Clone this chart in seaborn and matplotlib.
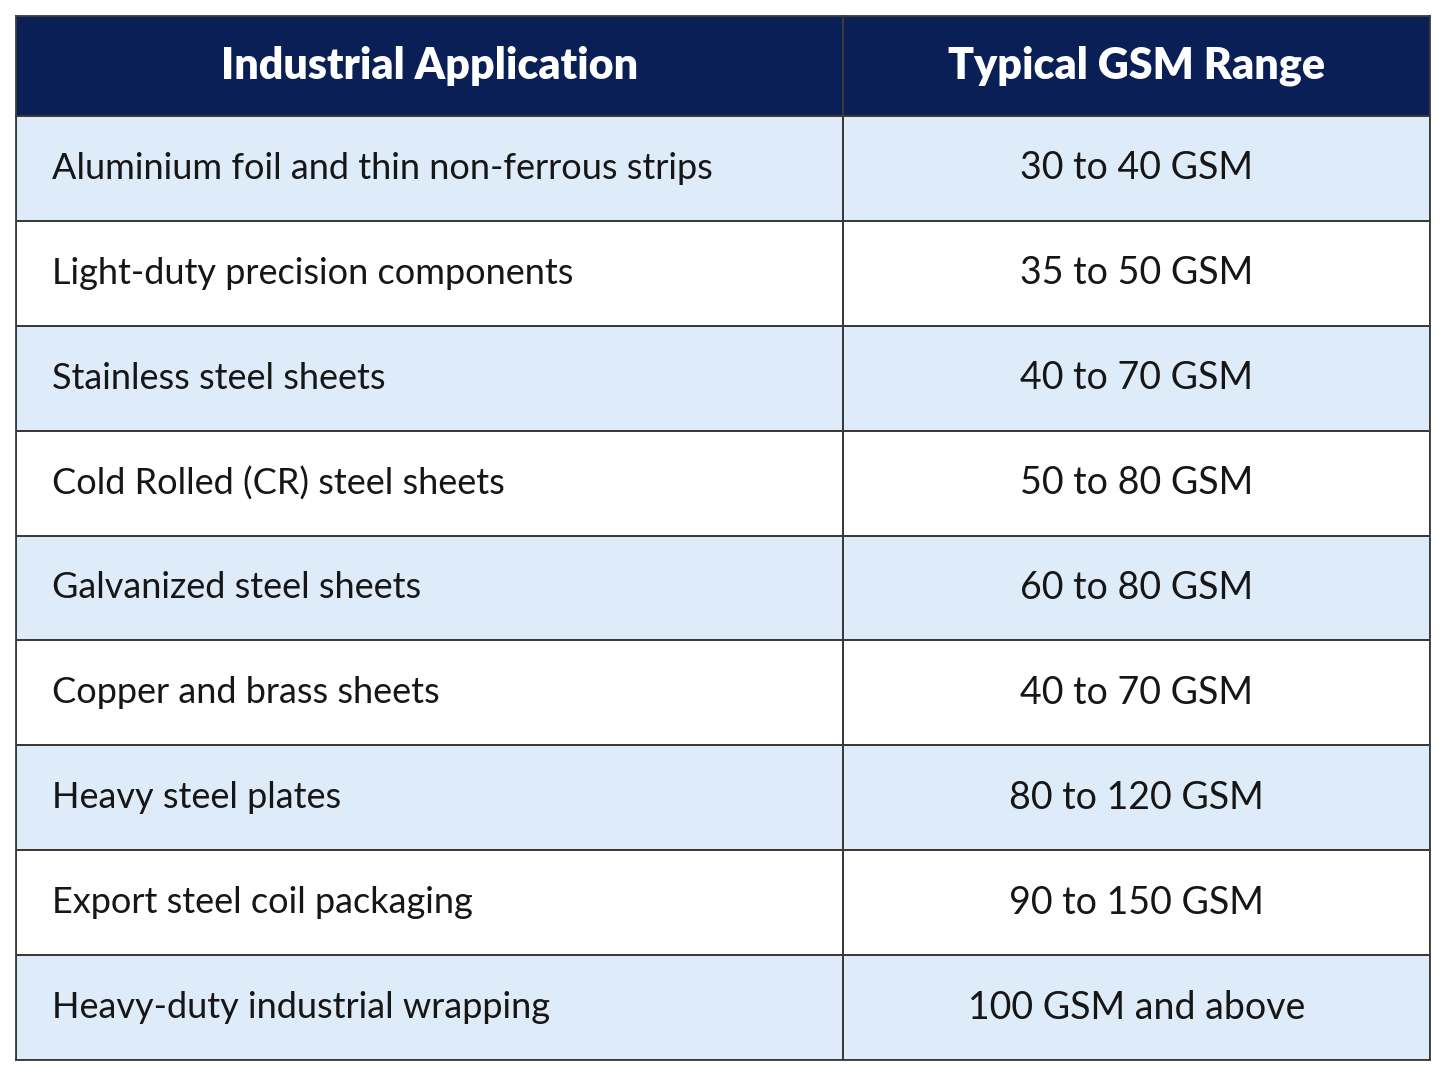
import numpy as np
import matplotlib
matplotlib.use("Agg")
import matplotlib.pyplot as plt
import seaborn as sns
from matplotlib.colors import ListedColormap

NAVY = "#0a1f55"
LIGHT = "#deebf9"
WHITE = "#ffffff"
LINE = "#3a3a3a"
TEXT = "#161616"

headers = ["Industrial Application", "Typical GSM Range"]
applications = [
    "Aluminium foil and thin non-ferrous strips",
    "Light-duty precision components",
    "Stainless steel sheets",
    "Cold Rolled (CR) steel sheets",
    "Galvanized steel sheets",
    "Copper and brass sheets",
    "Heavy steel plates",
    "Export steel coil packaging",
    "Heavy-duty industrial wrapping",
]
gsm_ranges = [
    "30 to 40 GSM",
    "35 to 50 GSM",
    "40 to 70 GSM",
    "50 to 80 GSM",
    "60 to 80 GSM",
    "40 to 70 GSM",
    "80 to 120 GSM",
    "90 to 150 GSM",
    "100 GSM and above",
]

sns.set_theme(style="white")
plt.rcParams["font.family"] = ["Lato", "DejaVu Sans"]

W, H = 1456, 1080
fig = plt.figure(figsize=(W / 100, H / 100), dpi=100)
fig.patch.set_facecolor("white")

left, mid, right = 16, 843, 1430
top, head_bottom, bottom = 16, 116, 1060

# band codes: 0 header, 1 light stripe, 2 white stripe
header_band = np.array([[0]])
body_bands = np.array([1 if i % 2 == 0 else 2 for i in range(len(applications))]).reshape(-1, 1)
cmap = ListedColormap([NAVY, LIGHT, WHITE])


def panel(x0, x1, y0, y1):
    return fig.add_axes([x0 / W, 1 - y1 / H, (x1 - x0) / W, (y1 - y0) / H])


def draw_bands(ax, data):
    sns.heatmap(data, ax=ax, cmap=cmap, vmin=-0.5, vmax=2.5, cbar=False,
                linewidths=1.3, linecolor=LINE, xticklabels=False, yticklabels=False)
    for s in ax.spines.values():
        s.set_visible(True)
        s.set_color(LINE)
        s.set_linewidth(1.3)


columns = [(left, mid, headers[0], applications, "left"),
           (mid, right, headers[1], gsm_ranges, "center")]

for x0, x1, head, cells, align in columns:
    hax = panel(x0, x1, top, head_bottom)
    draw_bands(hax, header_band)
    hax.text(0.5, 0.5, head, ha="center", va="center", color="white",
             fontsize=31, fontweight="heavy")

    bax = panel(x0, x1, head_bottom, bottom)
    draw_bands(bax, body_bands)
    xt = 36 / (x1 - x0) if align == "left" else 0.5
    size = 26 if align == "left" else 27
    for i, label in enumerate(cells):
        bax.text(xt, i + 0.5, label, ha=align, va="center", color=TEXT, fontsize=size)

fig.savefig("out.png", dpi=100, facecolor="white")
